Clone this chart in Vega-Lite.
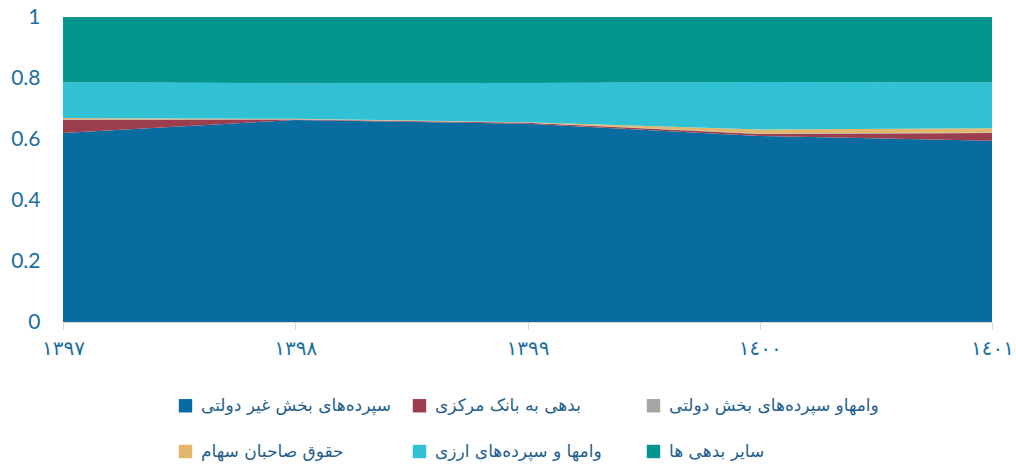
{
  "$schema": "https://vega.github.io/schema/vega-lite/v6.json",
  "autosize": {"type": "none"},
  "padding": {"left": 63, "top": 17, "right": 24, "bottom": 143},
  "width": 929,
  "height": 305,
  "background": "white",
  "config": {"view": {"stroke": null}},
  "data": {
    "values": [
      {"year": "١٣٩٧", "cat": "سپرده‌های بخش غیر دولتی", "o": 1, "v": 0.620},
      {"year": "١٣٩٧", "cat": "بدهی به بانک مرکزی", "o": 2, "v": 0.043},
      {"year": "١٣٩٧", "cat": "وامهاو سپرده‌های بخش دولتی", "o": 3, "v": 0.002},
      {"year": "١٣٩٧", "cat": "حقوق صاحبان سهام", "o": 4, "v": 0.004},
      {"year": "١٣٩٧", "cat": "وامها و سپرده‌های ارزی", "o": 5, "v": 0.117},
      {"year": "١٣٩٧", "cat": "سایر بدهی ها", "o": 6, "v": 0.214},
      {"year": "١٣٩٨", "cat": "سپرده‌های بخش غیر دولتی", "o": 1, "v": 0.662},
      {"year": "١٣٩٨", "cat": "بدهی به بانک مرکزی", "o": 2, "v": 0.002},
      {"year": "١٣٩٨", "cat": "وامهاو سپرده‌های بخش دولتی", "o": 3, "v": 0.001},
      {"year": "١٣٩٨", "cat": "حقوق صاحبان سهام", "o": 4, "v": 0.001},
      {"year": "١٣٩٨", "cat": "وامها و سپرده‌های ارزی", "o": 5, "v": 0.117},
      {"year": "١٣٩٨", "cat": "سایر بدهی ها", "o": 6, "v": 0.217},
      {"year": "١٣٩٩", "cat": "سپرده‌های بخش غیر دولتی", "o": 1, "v": 0.650},
      {"year": "١٣٩٩", "cat": "بدهی به بانک مرکزی", "o": 2, "v": 0.003},
      {"year": "١٣٩٩", "cat": "وامهاو سپرده‌های بخش دولتی", "o": 3, "v": 0.001},
      {"year": "١٣٩٩", "cat": "حقوق صاحبان سهام", "o": 4, "v": 0.001},
      {"year": "١٣٩٩", "cat": "وامها و سپرده‌های ارزی", "o": 5, "v": 0.129},
      {"year": "١٣٩٩", "cat": "سایر بدهی ها", "o": 6, "v": 0.216},
      {"year": "١٤٠٠", "cat": "سپرده‌های بخش غیر دولتی", "o": 1, "v": 0.610},
      {"year": "١٤٠٠", "cat": "بدهی به بانک مرکزی", "o": 2, "v": 0.006},
      {"year": "١٤٠٠", "cat": "وامهاو سپرده‌های بخش دولتی", "o": 3, "v": 0.002},
      {"year": "١٤٠٠", "cat": "حقوق صاحبان سهام", "o": 4, "v": 0.013},
      {"year": "١٤٠٠", "cat": "وامها و سپرده‌های ارزی", "o": 5, "v": 0.156},
      {"year": "١٤٠٠", "cat": "سایر بدهی ها", "o": 6, "v": 0.213},
      {"year": "١٤٠١", "cat": "سپرده‌های بخش غیر دولتی", "o": 1, "v": 0.594},
      {"year": "١٤٠١", "cat": "بدهی به بانک مرکزی", "o": 2, "v": 0.026},
      {"year": "١٤٠١", "cat": "وامهاو سپرده‌های بخش دولتی", "o": 3, "v": 0.001},
      {"year": "١٤٠١", "cat": "حقوق صاحبان سهام", "o": 4, "v": 0.014},
      {"year": "١٤٠١", "cat": "وامها و سپرده‌های ارزی", "o": 5, "v": 0.150},
      {"year": "١٤٠١", "cat": "سایر بدهی ها", "o": 6, "v": 0.215}
    ]
  },
  "mark": {"type": "area", "interpolate": "linear"},
  "encoding": {
    "x": {
      "field": "year", "type": "ordinal",
      "sort": ["١٣٩٧", "١٣٩٨", "١٣٩٩", "١٤٠٠", "١٤٠١"],
      "scale": {"type": "point", "padding": 0},
      "axis": {
        "title": null, "labelAngle": 0, "labelFont": "DejaVu Sans", "labelFontSize": 20,
        "labelColor": "#1B6FA0", "labelPadding": 8, "tickSize": 8, "tickColor": "#D9D9D9",
        "domainColor": "#D9D9D9", "grid": false
      }
    },
    "y": {
      "field": "v", "type": "quantitative", "stack": "zero",
      "scale": {"domain": [0, 1], "nice": false},
      "axis": {
        "title": null, "values": [0, 0.2, 0.4, 0.6, 0.8, 1], "format": "~g",
        "labelFont": "Lato", "labelFontSize": 21, "labelColor": "#1B6FA0",
        "ticks": false, "labelPadding": 23, "domainColor": "#D9D9D9", "grid": false
      }
    },
    "order": {"field": "o", "type": "quantitative"},
    "color": {
      "field": "cat", "type": "nominal",
      "sort": ["سپرده‌های بخش غیر دولتی", "بدهی به بانک مرکزی", "وامهاو سپرده‌های بخش دولتی", "حقوق صاحبان سهام", "وامها و سپرده‌های ارزی", "سایر بدهی ها"],
      "scale": {
        "domain": ["سپرده‌های بخش غیر دولتی", "بدهی به بانک مرکزی", "وامهاو سپرده‌های بخش دولتی", "حقوق صاحبان سهام", "وامها و سپرده‌های ارزی", "سایر بدهی ها"],
        "range": ["#086CA0", "#9B3F4E", "#A5A5A5", "#E2B66B", "#31C1D4", "#02968F"]
      },
      "legend": {
        "title": null, "orient": "none", "legendX": 114, "legendY": 380,
        "direction": "horizontal", "columns": 3, "gridAlign": "all",
        "columnPadding": 0, "rowPadding": 28, "padding": 0,
        "symbolType": "square", "symbolSize": 180, "symbolStrokeWidth": 0, "symbolOpacity": 1,
        "labelFont": "DejaVu Sans", "labelFontSize": 17, "labelColor": "#1F5F8E",
        "labelOffset": 7, "labelLimit": 400
      }
    }
  }
}
